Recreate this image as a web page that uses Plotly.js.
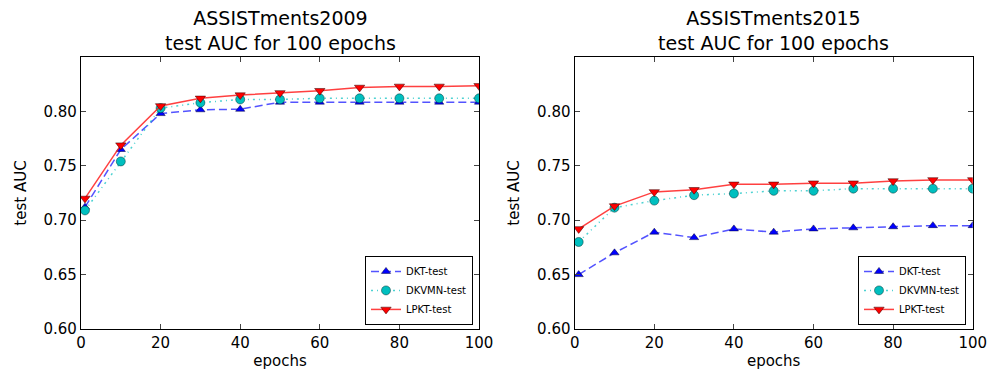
<!DOCTYPE html>
<html>
<head>
<meta charset="utf-8">
<script src="https://cdn.plot.ly/plotly-3.0.1.min.js"></script>
<style>html,body{margin:0;padding:0;background:#fff;}#chart{width:996px;height:370px;}</style>
</head>
<body>
<div id="chart"></div>
<script>
const epochs = [1, 10, 20, 30, 40, 50, 60, 70, 80, 90, 100];

const dkt2009   = [0.712, 0.765, 0.798, 0.8015, 0.802, 0.8085, 0.8085, 0.8085, 0.8085, 0.8085, 0.8085];
const dkvmn2009 = [0.709, 0.754, 0.803, 0.808, 0.811, 0.811, 0.812, 0.812, 0.812, 0.812, 0.812];
const lpkt2009  = [0.720, 0.769, 0.805, 0.812, 0.815, 0.817, 0.819, 0.822, 0.823, 0.823, 0.8235];

const dkt2015   = [0.650, 0.670, 0.689, 0.684, 0.692, 0.689, 0.692, 0.693, 0.694, 0.695, 0.695];
const dkvmn2015 = [0.680, 0.7115, 0.718, 0.723, 0.7245, 0.727, 0.727, 0.729, 0.729, 0.729, 0.729];
const lpkt2015  = [0.692, 0.713, 0.726, 0.728, 0.733, 0.733, 0.734, 0.734, 0.736, 0.737, 0.737];

const seriesNames = ['DKT-test', 'DKVMN-test', 'LPKT-test'];
const titles = ['ASSISTments2009<br>test AUC for 100 epochs', 'ASSISTments2015<br>test AUC for 100 epochs'];
const yTicks = [0.60, 0.65, 0.70, 0.75, 0.80];
const xTicks = [0, 20, 40, 60, 80, 100];

const FONT = 'DejaVu Sans, sans-serif';

function styles(i) {
  return [
    {line: {color: 'rgba(40,40,255,0.8)', width: 1.5, dash: '8px,4px'},
     marker: {symbol: 'triangle-up', size: 8, color: '#0000ff', line: {color: '#000033', width: 0.5}}},
    {line: {color: 'rgba(0,191,191,0.7)', width: 1.5, dash: '2px,4px,1px,4px'},
     marker: {symbol: 'circle', size: 9, color: '#00bfbf', line: {color: '#003333', width: 0.5}}},
    {line: {color: 'rgba(255,30,30,0.85)', width: 1.5},
     marker: {symbol: 'triangle-down', size: 9, color: '#ff0000', line: {color: '#330000', width: 0.5}}}
  ][i];
}

const data = [];
const sets = [[dkt2009, dkvmn2009, lpkt2009], [dkt2015, dkvmn2015, lpkt2015]];
sets.forEach((s, p) => {
  s.forEach((vals, i) => {
    const st = styles(i);
    data.push({
      x: epochs, y: vals, name: seriesNames[i], type: 'scatter', mode: 'lines+markers',
      xaxis: p === 0 ? 'x' : 'x2', yaxis: p === 0 ? 'y' : 'y2',
      line: st.line, marker: st.marker,
      legend: p === 0 ? 'legend' : 'legend2', showlegend: true
    });
  });
});

function xa(domain) {
  return {domain: domain, range: [0, 100], tickvals: xTicks, ticks: 'inside', ticklen: 5,
    showline: true, mirror: 'ticks', linecolor: '#000', linewidth: 1.2, showgrid: false, zeroline: false,
    tickfont: {family: FONT, size: 15, color: '#000'},
    title: {text: 'epochs', font: {family: FONT, size: 15, color: '#000'}, standoff: 10}};
}
function ya(anchor) {
  return {domain: [0, 1], range: [0.60, 0.85], tickvals: yTicks, ticktext: yTicks.map(v => v.toFixed(2)),
    ticks: 'inside', ticklen: 5, anchor: anchor,
    showline: true, mirror: 'ticks', linecolor: '#000', linewidth: 1.2, showgrid: false, zeroline: false,
    tickfont: {family: FONT, size: 15, color: '#000'},
    title: {text: 'test AUC', font: {family: FONT, size: 15, color: '#000'}, standoff: 13}};
}

const d1 = [81/996, 479/996];
const d2 = [574.7/996, 972.7/996];

function leg(x) {
  return {x: x, y: 0.015, xanchor: 'right', yanchor: 'bottom', bordercolor: '#000', borderwidth: 1,
    bgcolor: '#fff', font: {family: FONT, size: 10, color: '#000'}, tracegroupgap: 0, itemwidth: 30};
}

const layout = {
  width: 996, height: 370,
  margin: {l: 0, r: 0, t: 57, b: 41},
  paper_bgcolor: '#fff', plot_bgcolor: '#fff',
  font: {family: FONT, color: '#000'},
  xaxis: Object.assign(xa(d1), {anchor: 'y'}),
  yaxis: ya('x'),
  xaxis2: Object.assign(xa(d2), {anchor: 'y2'}),
  yaxis2: ya('x2'),
  legend: leg(473/996),
  legend2: leg(966/996),
  annotations: [
    {text: titles[0], x: (d1[0]+d1[1])/2, y: 1, xref: 'paper', yref: 'paper', xanchor: 'center', yanchor: 'bottom', align: 'center', yshift: 1,
     showarrow: false, font: {family: FONT, size: 19, color: '#000'}},
    {text: titles[1], x: (d2[0]+d2[1])/2, y: 1, xref: 'paper', yref: 'paper', xanchor: 'center', yanchor: 'bottom', align: 'center', yshift: 1,
     showarrow: false, font: {family: FONT, size: 19, color: '#000'}}
  ],
  showlegend: true
};

Plotly.newPlot('chart', data, layout, {displayModeBar: false, staticPlot: true});
</script>
</body>
</html>
